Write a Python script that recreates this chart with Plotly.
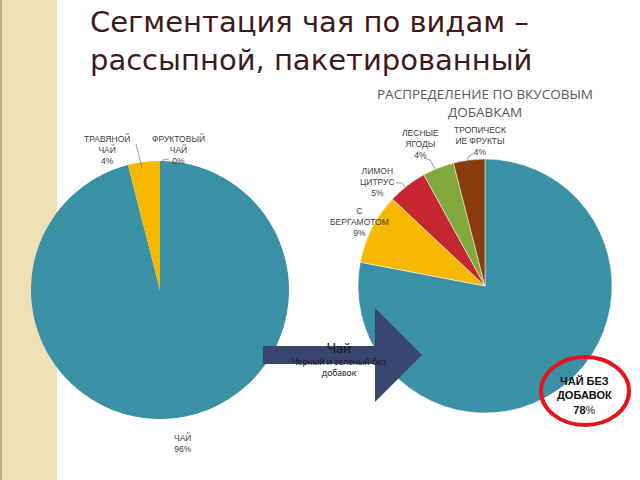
import plotly.graph_objects as go

W, H = 640, 480

# ---- data ----
left_labels = ["ЧАЙ", "ТРАВЯНОЙ ЧАЙ", "ФРУКТОВЫЙ ЧАЙ"]
left_values = [96, 4, 0]
right_labels = ["ЧАЙ БЕЗ ДОБАВОК", "С БЕРГАМОТОМ", "ЛИМОН ЦИТРУС", "ЛЕСНЫЕ ЯГОДЫ", "ТРОПИЧЕСКИЕ ФРУКТЫ"]
right_values = [78, 9, 5, 4, 4]

left_colors = ["#3a90a4", "#f7b800", "#8fb23f"]
right_colors = ["#3a90a4", "#f7b800", "#c4272f", "#80a83a", "#8a3d0c"]


def px(x, y):
    return x / W, 1 - y / H


def dom(x0, y0, x1, y1):
    return dict(x=[x0 / W, x1 / W], y=[1 - y1 / H, 1 - y0 / H])


fig = go.Figure()
fig.add_trace(go.Pie(labels=left_labels, values=left_values, sort=False,
                     direction="clockwise", rotation=0, textinfo="none",
                     marker=dict(colors=left_colors, line=dict(color="white", width=0)),
                     domain=dom(31, 161, 289, 419), showlegend=False, hoverinfo="label+percent"))
fig.add_trace(go.Pie(labels=right_labels, values=right_values, sort=False,
                     direction="clockwise", rotation=0, textinfo="none",
                     marker=dict(colors=right_colors, line=dict(color="white", width=0.5)),
                     domain=dom(358, 159, 612, 413), showlegend=False, hoverinfo="label+percent"))

shapes = []
# left beige stripe
shapes.append(dict(type="rect", xref="paper", yref="paper", x0=0, x1=57 / W, y0=0, y1=1,
                   fillcolor="#efe1b6", line=dict(width=0), layer="below"))
shapes.append(dict(type="rect", xref="paper", yref="paper", x0=0, x1=2 / W, y0=0, y1=1,
                   fillcolor="#bfae86", line=dict(width=0), layer="below"))

# arrow
pts = [(263, 346), (375, 346), (375, 308), (422, 355), (375, 402), (375, 364), (263, 364)]
path = "M " + " L ".join(f"{px(x, y)[0]:.4f},{px(x, y)[1]:.4f}" for x, y in pts) + " Z"
shapes.append(dict(type="path", xref="paper", yref="paper", path=path,
                   fillcolor="#39466f", line=dict(width=0)))

# red ellipse
shapes.append(dict(type="circle", xref="paper", yref="paper",
                   x0=541 / W, x1=629 / W, y0=1 - 425 / H, y1=1 - 357 / H,
                   line=dict(color="#e5131b", width=4), fillcolor="rgba(0,0,0,0)"))


def leader(points):
    p = "M " + " L ".join(f"{px(x, y)[0]:.4f},{px(x, y)[1]:.4f}" for x, y in points)
    shapes.append(dict(type="path", xref="paper", yref="paper", path=p,
                       line=dict(color="#707070", width=0.7)))


leader([(136, 144), (142, 168)])
leader([(169, 159), (163, 160), (160, 166)])
leader([(474, 153), (468, 157), (468, 163)])
leader([(424, 158), (430, 160), (435, 169)])
leader([(396, 183), (402, 183), (407, 189)])

annotations = []


def txt(x, y, text, size=8.5, color="#404040", family="Liberation Sans", xanchor="center", bold=False):
    if bold:
        text = "<b>" + text + "</b>"
    annotations.append(dict(x=px(x, y)[0], y=px(x, y)[1], xref="paper", yref="paper",
                            text=text, showarrow=False, xanchor=xanchor, yanchor="middle",
                            font=dict(size=size, color=color, family=family)))


# main title
annotations.append(dict(x=88 / W, y=1 - 41 / H, xref="paper", yref="paper", xanchor="left",
                        yanchor="middle", align="left", showarrow=False,
                        text="Сегментация чая по видам –<br>рассыпной, пакетированный",
                        font=dict(size=29, color="#3f1a1a", family="DejaVu Sans")))

# right chart title
txt(485, 103, "РАСПРЕДЕЛЕНИЕ ПО ВКУСОВЫМ<br>ДОБАВКАМ", size=13.5, color="#595959", family="Open Sans")

# left labels
txt(107, 149, "ТРАВЯНОЙ<br>ЧАЙ<br>4%")
txt(178, 149, "ФРУКТОВЫЙ<br>ЧАЙ<br>0%")
txt(183, 443, "ЧАЙ<br>96%")

# right labels
txt(480, 141, "ТРОПИЧЕСК<br>ИЕ ФРУКТЫ<br>4%")
txt(420, 144, "ЛЕСНЫЕ<br>ЯГОДЫ<br>4%")
txt(377, 182, "ЛИМОН<br>ЦИТРУС<br>5%")
txt(359, 222, "С<br>БЕРГАМОТОМ<br>9%")
txt(584, 395, "ЧАЙ БЕЗ<br>ДОБАВОК<br>78<span style='color:#666666'>%</span>",
    size=11, color="#111111", bold=True)

# arrow text
txt(339, 358, "<span style='font-size:14px'>Чай</span><br>Черный и зеленый без<br>добавок",
    size=9, color="#1a1a1a", family="Lato")

fig.update_layout(width=W, height=H, margin=dict(l=0, r=0, t=0, b=0),
                  paper_bgcolor="white", plot_bgcolor="white",
                  shapes=shapes, annotations=annotations)

fig.write_html("out.html")
